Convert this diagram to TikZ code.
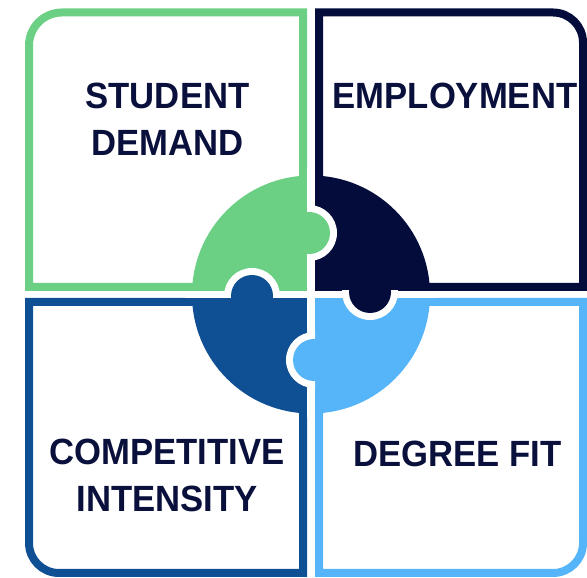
\documentclass[tikz,border=0pt]{standalone}
\usepackage{fontspec}
\setmainfont{Liberation Sans}
\newfontfamily\lblfont{Liberation Sans}[BoldFeatures={FakeStretch=0.95}]
\definecolor{cgreen}{RGB}{107,207,132}
\definecolor{cnavy}{RGB}{3,12,58}
\definecolor{cblue}{RGB}{15,80,148}
\definecolor{clight}{RGB}{86,180,248}
\definecolor{ctext}{RGB}{10,16,60}
\begin{document}
\begin{tikzpicture}[x=1pt,y=1pt,
  box/.style={line width=8pt},
  lbl/.style={font=\lblfont\fontsize{36.5}{47}\selectfont\bfseries, text=ctext, align=center, inner sep=0pt}]
\useasboundingbox (0,0) rectangle (587,578);
% frames
\draw[box, cgreen] (303,291) -- (29,291) -- (29,532.5) arc (180:90:33) -- (303,565.5) -- cycle;
\draw[box, cnavy] (319,291) -- (583,291) -- (583,535.5) arc (0:90:30) -- (319,565.5) -- cycle;
\draw[box, cblue] (303,276) -- (29,276) -- (29,35) arc (180:270:30) -- (303,5) -- cycle;
\draw[box, clight] (319,276) -- (583,276) -- (583,35) arc (0:-90:30) -- (319,5) -- cycle;
% puzzle disc
\coordinate (c) at (311,283.5);
\begin{scope}
  \clip (c) circle (119);
  \fill[cgreen] (c) rectangle ++(-130,130);
  \fill[cnavy] (c) rectangle ++(130,130);
  \fill[cblue] (c) rectangle ++(-130,-130);
  \fill[clight] (c) rectangle ++(130,-130);
\end{scope}
% gaps
\fill[white] (307,160) rectangle (315,410);
\fill[white] (185,280) rectangle (435,287);
% knobs
\coordinate (kg) at (309,345);
\coordinate (kn) at (370,286);
\coordinate (kb) at (252,282);
\coordinate (kl) at (314,218);
\begin{scope}\clip (307,300) rectangle (360,390); \fill[white] (kg) circle (28);\end{scope}
\fill[cgreen] (kg) circle (21);
\begin{scope}\clip (320,240) rectangle (420,287); \fill[white] (kn) circle (28);\end{scope}
\fill[cnavy] (kn) circle (21);
\begin{scope}\clip (200,280) rectangle (300,320); \fill[white] (kb) circle (28);\end{scope}
\fill[cblue] (kb) circle (21);
\begin{scope}\clip (260,170) rectangle (315,260); \fill[white] (kl) circle (28);\end{scope}
\fill[clight] (kl) circle (21);
% labels
\node[lbl] (sd) at (167.5,459) {STUDENT\\DEMAND};
\node[lbl] (em) at (455,482.5) {EMPLOYMENT};
\node[lbl] (ci) at (167,102.5) {COMPETITIVE\\INTENSITY};
\node[lbl] (df) at (457.5,124.5) {DEGREE FIT};
\end{tikzpicture}
\end{document}
